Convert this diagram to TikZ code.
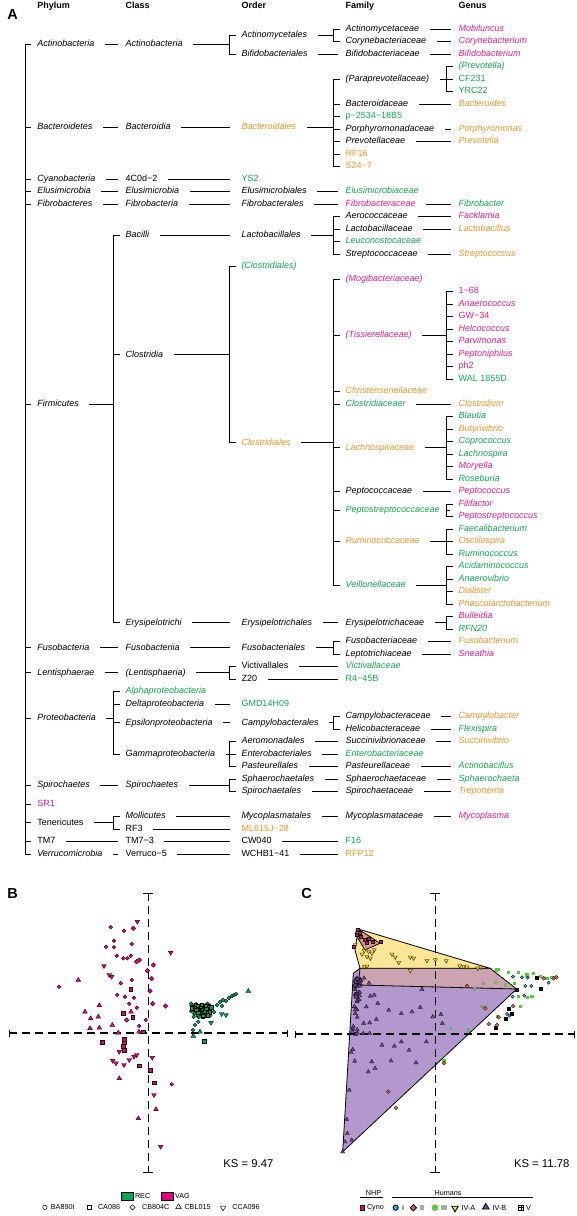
\documentclass[tikz,border=0pt]{standalone}
\usepackage{fontspec}
\setmainfont{Liberation Sans}
\usetikzlibrary{positioning}

\definecolor{txpink}{RGB}{234,30,138}
\definecolor{txgreen}{RGB}{20,168,80}
\definecolor{txorange}{RGB}{247,148,40}
\definecolor{vagpink}{RGB}{230,0,126}
\definecolor{recgreen}{RGB}{0,166,81}
\definecolor{hullpurple}{RGB}{178,152,204}
\definecolor{hullyellow}{RGB}{251,229,150}
\definecolor{hullmauve}{RGB}{204,163,178}
\definecolor{hullcyno}{RGB}{214,150,130}
\definecolor{ptcyan}{RGB}{40,185,230}
\definecolor{ptbrown}{RGB}{220,110,60}
\definecolor{ptgreen}{RGB}{90,200,60}
\definecolor{ptgrey}{RGB}{125,160,125}
\definecolor{ptyellow}{RGB}{250,215,40}
\definecolor{ptpurple}{RGB}{120,70,160}

% point markers
\tikzset{
  mo/.pic={\path[pic actions] (0pt,0pt) circle (1.9pt);},
  ms/.pic={\path[pic actions] (-1.7pt,-1.7pt) rectangle (1.7pt,1.7pt);},
  md/.pic={\path[pic actions] (0pt,2.3pt) -- (2.3pt,0pt) -- (0pt,-2.3pt) -- (-2.3pt,0pt) -- cycle;},
  mt/.pic={\path[pic actions] (0pt,2.6pt) -- (2.4pt,-1.5pt) -- (-2.4pt,-1.5pt) -- cycle;},
  mv/.pic={\path[pic actions] (0pt,-2.6pt) -- (2.4pt,1.5pt) -- (-2.4pt,1.5pt) -- cycle;},
  mx/.pic={\path[pic actions] (-1.9pt,-1.9pt) rectangle (1.9pt,1.9pt);
           \draw[pic actions] (-1.9pt,0pt) -- (1.9pt,0pt) (0pt,-1.9pt) -- (0pt,1.9pt);},
}

% bracket: parent, bracket column, first child, last child, all children
\newcommand\taxfork[5]{%
  \draw (#3.west -| #2) ++(6.3,0) -- ++(-6.3,0) -- (#4.west -| #2) -- ++(6.3,0);
  \foreach \k in {#5} {\draw (\k.west -| #2) -- ++(6.3,0);}
  \draw[shorten <=10pt] (#1.east) -- (#1.east -| #2);
}

\begin{document}
\begin{tikzpicture}[x=1pt, y=-1pt, line width=1pt]
  \tikzstyle{tx}=[anchor=west, inner sep=0pt, text height=6.5pt, text depth=2pt, font=\fontsize{9}{10}\selectfont\itshape]
  \tikzstyle{cd}=[tx, font=\fontsize{9}{10}\selectfont]
  \tikzstyle{pk}=[text=txpink]
  \tikzstyle{gn}=[text=txgreen]
  \tikzstyle{og}=[text=txorange]
  \tikzstyle{hd}=[tx, font=\fontsize{9}{10}\selectfont\bfseries]
  \tikzstyle{panel}=[inner sep=0pt, font=\fontsize{14.5}{15}\selectfont\bfseries]
  \tikzstyle{link}=[shorten <=10pt, shorten >=7pt]
  \tikzstyle{axis}=[line width=1.1pt, dash pattern=on 8pt off 5pt]
  \tikzstyle{axcap}=[line width=1.1pt]
  \tikzstyle{vag}=[draw=black, fill=vagpink, line width=0.3pt]
  \tikzstyle{rec}=[draw=black, fill=recgreen, line width=0.3pt]
  \tikzstyle{hull}=[draw=black, line width=0.8pt]
  \tikzstyle{lg}=[inner sep=0pt, font=\fontsize{7.2}{8}\selectfont]
  \useasboundingbox (0,0) rectangle (577,1216);

  % ---------------- A: taxonomy tree
  \node[panel] (lblA) at (12.5,15) {A};
  \node[hd] (hPhy) at (36.8,6.5) {Phylum};
  \node[hd] (hCla) at (125.1,6.5) {Class};
  \node[hd] (hOrd) at (241,6.5) {Order};
  \node[hd] (hFam) at (345.2,6.5) {Family};
  \node[hd] (hGen) at (458.2,6.5) {Genus};

  \begin{scope}[y=-12.5pt, yshift=-16.5pt]
    \coordinate (bR) at (25,0);
    \coordinate (bC) at (113.3,0);
    \coordinate (bO) at (229.2,0);
    \coordinate (bF) at (333.4,0);
    \coordinate (bG) at (446.4,0);

    % phylum
    \node[tx] (pAct) at (36.8,2.25) {Actinobacteria};
    \node[tx] (pBac) at (36.8,8.857) {Bacteroidetes};
    \node[tx] (pCya) at (36.8,13) {Cyanobacteria};
    \node[tx] (pEls) at (36.8,14) {Elusimicrobia};
    \node[tx] (pFib) at (36.8,15) {Fibrobacteres};
    \node[tx] (pFir) at (36.8,31.02) {Firmicutes};
    \node[tx] (pFus) at (36.8,50.5) {Fusobacteria};
    \node[tx] (pLen) at (36.8,52.5) {Lentisphaerae};
    \node[tx] (pPro) at (36.8,56.125) {Proteobacteria};
    \node[tx] (pSpi) at (36.8,61.5) {Spirochaetes};
    \node[cd,pk] (pSR) at (36.8,63) {SR1};
    \node[cd] (pTen) at (36.8,64.5) {Tenericutes};
    \node[cd] (pTM) at (36.8,66) {TM7};
    \node[tx] (pVer) at (36.8,67) {Verrucomicrobia};

    % class
    \node[tx] (cAct) at (125.1,2.25) {Actinobacteria};
    \node[tx] (cBac) at (125.1,8.857) {Bacteroidia};
    \node[cd] (cCya) at (125.1,13) {4C0d−2};
    \node[tx] (cEls) at (125.1,14) {Elusimicrobia};
    \node[tx] (cFib) at (125.1,15) {Fibrobacteria};
    \node[tx] (cBaci) at (125.1,17.5) {Bacilli};
    \node[tx] (cClo) at (125.1,27.06) {Clostridia};
    \node[tx] (cEry) at (125.1,48.5) {Erysipelotrichi};
    \node[tx] (cFus) at (125.1,50.5) {Fusobacteriia};
    \node[tx] (cLen) at (125.1,52.5) {(Lentisphaeria)};
    \node[tx,gn] (cAlp) at (125.1,54) {Alphaproteobacteria};
    \node[tx] (cDel) at (125.1,55) {Deltaproteobacteria};
    \node[tx] (cEps) at (125.1,56.5) {Epsilonproteobacteria};
    \node[tx] (cGam) at (125.1,59) {Gammaproteobacteria};
    \node[tx] (cSpi) at (125.1,61.5) {Spirochaetes};
    \node[tx] (cMol) at (125.1,64) {Mollicutes};
    \node[cd] (cRF3) at (125.1,65) {RF3};
    \node[cd] (cTM) at (125.1,66) {TM7−3};
    \node[cd] (cVer) at (125.1,67) {Verruco−5};

    % order
    \node[tx] (oActm) at (241,1.5) {Actinomycetales};
    \node[tx] (oBif) at (241,3) {Bifidobacteriales};
    \node[tx,og] (oBac) at (241,8.857) {Bacteroidales};
    \node[cd,gn] (oYS2) at (241,13) {YS2};
    \node[tx] (oEls) at (241,14) {Elusimicrobiales};
    \node[tx] (oFib) at (241,15) {Fibrobacterales};
    \node[tx] (oLac) at (241,17.5) {Lactobacillales};
    \node[tx,gn] (oCloU) at (241,20) {(Clostridiales)};
    \node[tx,og] (oClo) at (241,34.11) {Clostridiales};
    \node[tx] (oEry) at (241,48.5) {Erysipelotrichales};
    \node[tx] (oFus) at (241,50.5) {Fusobacteriales};
    \node[cd] (oVic) at (241,52) {Victivallales};
    \node[cd] (oZ20) at (241,53) {Z20};
    \node[cd,gn] (oGMD) at (241,55) {GMD14H09};
    \node[tx] (oCam) at (241,56.5) {Campylobacterales};
    \node[tx] (oAer) at (241,58) {Aeromonadales};
    \node[tx] (oEnt) at (241,59) {Enterobacteriales};
    \node[tx] (oPas) at (241,60) {Pasteurellales};
    \node[tx] (oSph) at (241,61) {Sphaerochaetales};
    \node[tx] (oSpi) at (241,62) {Spirochaetales};
    \node[tx] (oMyc) at (241,64) {Mycoplasmatales};
    \node[cd,og] (oML) at (241,65) {ML615J−28};
    \node[cd] (oCW) at (241,66) {CW040};
    \node[cd] (oWC) at (241,67) {WCHB1−41};

    % family
    \node[tx] (fActm) at (345.2,1) {Actinomycetaceae};
    \node[tx] (fCory) at (345.2,2) {Corynebacteriaceae};
    \node[tx] (fBif) at (345.2,3) {Bifidobacteriaceae};
    \node[tx] (fPara) at (345.2,5) {(Paraprevotellaceae)};
    \node[tx] (fBacd) at (345.2,7) {Bacteroidaceae};
    \node[cd,gn] (fP25) at (345.2,8) {p−2534−18B5};
    \node[tx] (fPor) at (345.2,9) {Porphyromonadaceae};
    \node[tx] (fPrev) at (345.2,10) {Prevotellaceae};
    \node[cd,og] (fRF16) at (345.2,11) {RF16};
    \node[cd,og] (fS24) at (345.2,12) {S24−7};
    \node[tx,gn] (fEls) at (345.2,14) {Elusimicrobiaceae};
    \node[tx,pk] (fFib) at (345.2,15) {Fibrobacteraceae};
    \node[tx] (fAer) at (345.2,16) {Aerococcaceae};
    \node[tx] (fLac) at (345.2,17) {Lactobacillaceae};
    \node[tx,gn] (fLeu) at (345.2,18) {Leuconostocaceae};
    \node[tx] (fStr) at (345.2,19) {Streptococcaceae};
    \node[tx,pk] (fMog) at (345.2,21) {(Mogibacteriaceae)};
    \node[tx,pk] (fTis) at (345.2,25.5) {(Tissierellaceae)};
    \node[tx,og] (fChr) at (345.2,30) {Christensenellaceae};
    \node[tx,gn] (fCld) at (345.2,31) {Clostridiaceaer};
    \node[tx,og] (fLach) at (345.2,34.5) {Lachnospiraceae};
    \node[tx] (fPcc) at (345.2,38) {Peptococcaceae};
    \node[tx,gn] (fPst) at (345.2,39.5) {Peptostreptococcaceae};
    \node[tx,og] (fRum) at (345.2,42) {Ruminococcaceae};
    \node[tx,gn] (fVei) at (345.2,45.5) {Veillonellaceae};
    \node[tx] (fEry) at (345.2,48.5) {Erysipelotrichaceae};
    \node[tx] (fFus) at (345.2,50) {Fusobacteriaceae};
    \node[tx] (fLep) at (345.2,51) {Leptotrichiaceae};
    \node[tx,gn] (fVic) at (345.2,52) {Victivallaceae};
    \node[cd,gn] (fR4) at (345.2,53) {R4−45B};
    \node[tx] (fCam) at (345.2,56) {Campylobacteraceae};
    \node[tx] (fHel) at (345.2,57) {Helicobacteraceae};
    \node[tx] (fSuc) at (345.2,58) {Succinivibrionaceae};
    \node[tx,gn] (fEnt) at (345.2,59) {Enterobacteriaceae};
    \node[tx] (fPas) at (345.2,60) {Pasteurellaceae};
    \node[tx] (fSph) at (345.2,61) {Sphaerochaetaceae};
    \node[tx] (fSpi) at (345.2,62) {Spirochaetaceae};
    \node[tx] (fMyc) at (345.2,64) {Mycoplasmataceae};
    \node[cd,gn] (fF16) at (345.2,66) {F16};
    \node[cd,og] (fRFP) at (345.2,67) {RFP12};

    % genus
    \node[tx,pk] (gMob) at (458.2,1) {Mobiluncus};
    \node[tx,pk] (gCory) at (458.2,2) {Corynebacterium};
    \node[tx,pk] (gBif) at (458.2,3) {Bifidobacterium};
    \node[tx,gn] (gPrevP) at (458.2,4) {(Prevotella)};
    \node[cd,gn] (gCF) at (458.2,5) {CF231};
    \node[cd,gn] (gYRC) at (458.2,6) {YRC22};
    \node[tx,og] (gBacd) at (458.2,7) {Bacteroides};
    \node[tx,og] (gPor) at (458.2,9) {Porphyromonas};
    \node[tx,og] (gPrev) at (458.2,10) {Prevotella};
    \node[tx,gn] (gFib) at (458.2,15) {Fibrobacter};
    \node[tx,pk] (gFac) at (458.2,16) {Facklamia};
    \node[tx,og] (gLac) at (458.2,17) {Lactobacillus};
    \node[tx,og] (gStr) at (458.2,19) {Streptococcus};
    \node[cd,pk] (g168) at (458.2,22) {1−68};
    \node[tx,pk] (gAna) at (458.2,23) {Anaerococcus};
    \node[cd,pk] (gGW) at (458.2,24) {GW−34};
    \node[tx,pk] (gHel) at (458.2,25) {Helcococcus};
    \node[tx,pk] (gPar) at (458.2,26) {Parvimonas};
    \node[tx,pk] (gPep) at (458.2,27) {Peptoniphilus};
    \node[cd,pk] (gph2) at (458.2,28) {ph2};
    \node[cd,gn] (gWAL) at (458.2,29) {WAL 1855D};
    \node[tx,og] (gCld) at (458.2,31) {Clostridium};
    \node[tx,gn] (gBla) at (458.2,32) {Blautia};
    \node[tx,og] (gBut) at (458.2,33) {Butyrivibrio};
    \node[tx,gn] (gCop) at (458.2,34) {Coprococcus};
    \node[tx,gn] (gLach) at (458.2,35) {Lachnospira};
    \node[tx,pk] (gMor) at (458.2,36) {Moryella};
    \node[tx,gn] (gRos) at (458.2,37) {Roseburia};
    \node[tx,pk] (gPcc) at (458.2,38) {Peptococcus};
    \node[tx,pk] (gFil) at (458.2,39) {Filifactor};
    \node[tx,pk] (gPst) at (458.2,40) {Peptostreptococcus};
    \node[tx,gn] (gFae) at (458.2,41) {Faecalibacterium};
    \node[tx,og] (gOsc) at (458.2,42) {Oscillospira};
    \node[tx,gn] (gRum) at (458.2,43) {Ruminococcus};
    \node[tx,gn] (gAci) at (458.2,44) {Acidaminococcus};
    \node[tx,gn] (gAnv) at (458.2,45) {Anaerovibrio};
    \node[tx,og] (gDia) at (458.2,46) {Dialister};
    \node[tx,og] (gPha) at (458.2,47) {Phascolarctobacterium};
    \node[tx,pk] (gBul) at (458.2,48) {Bulleidia};
    \node[tx,gn] (gRFN) at (458.2,49) {RFN20};
    \node[tx,og] (gFus) at (458.2,50) {Fusobacterium};
    \node[tx,pk] (gSne) at (458.2,51) {Sneathia};
    \node[tx,og] (gCam) at (458.2,56) {Campylobacter};
    \node[tx,gn] (gFle) at (458.2,57) {Flexispira};
    \node[tx,og] (gSuc) at (458.2,58) {Succinivibrio};
    \node[tx,gn] (gAct) at (458.2,60) {Actinobacillus};
    \node[tx,gn] (gSph) at (458.2,61) {Sphaerochaeta};
    \node[tx,og] (gTre) at (458.2,62) {Treponema};
    \node[tx,pk] (gMyc) at (458.2,64) {Mycoplasma};

    % root
    \draw (pAct.west -| bR) ++(6.3,0) -- ++(-6.3,0) -- (pVer.west -| bR) -- ++(6.3,0);
    \foreach \k in {pBac,pCya,pEls,pFib,pFir,pFus,pLen,pPro,pSpi,pSR,pTen,pTM}
      \draw (\k.west -| bR) -- ++(6.3,0);

    % single links
    \foreach \a/\b in {pAct/cAct, pBac/cBac, pCya/cCya, pEls/cEls, pFib/cFib, pFus/cFus,
        pLen/cLen, pSpi/cSpi, pTM/cTM, pVer/cVer,
        oBif/fBif, oEls/fEls, oFib/fFib, oEry/fEry, oVic/fVic, oZ20/fR4, oAer/fSuc,
        oEnt/fEnt, oPas/fPas, oSph/fSph, oSpi/fSpi, oMyc/fMyc, oCW/fF16, oWC/fRFP,
        fActm/gMob, fCory/gCory, fBif/gBif, fBacd/gBacd, fPor/gPor, fPrev/gPrev,
        fFib/gFib, fAer/gFac, fLac/gLac, fStr/gStr, fCld/gCld, fPcc/gPcc, fFus/gFus,
        fLep/gSne, fCam/gCam, fHel/gFle, fSuc/gSuc, fPas/gAct, fSph/gSph, fSpi/gTre,
        fMyc/gMyc}
      \draw[link] (\a.east) -- (\b.west);
    \foreach \a/\b in {cBac/oBac, cCya/oYS2, cEls/oEls, cFib/oFib, cBaci/oLac, cEry/oEry,
        cFus/oFus, cDel/oGMD, cEps/oCam, cMol/oMyc, cRF3/oML, cTM/oCW, cVer/oWC}
      \draw[link, shorten >=11pt] (\a.east) -- (\b.west);

    % brackets
    \taxfork{cAct}{bO}{oActm}{oBif}{oActm,oBif}
    \taxfork{oActm}{bF}{fActm}{fCory}{fActm,fCory}
    \taxfork{oBac}{bF}{fPara}{fS24}{fPara,fBacd,fP25,fPor,fPrev,fRF16,fS24}
    \taxfork{fPara}{bG}{gPrevP}{gYRC}{gPrevP,gCF,gYRC}
    \taxfork{pFir}{bC}{cBaci}{cEry}{cBaci,cClo,cEry}
    \taxfork{oLac}{bF}{fAer}{fStr}{fAer,fLac,fLeu,fStr}
    \taxfork{cClo}{bO}{oCloU}{oClo}{oCloU,oClo}
    \taxfork{oClo}{bF}{fMog}{fVei}{fMog,fTis,fChr,fCld,fLach,fPcc,fPst,fRum,fVei}
    \taxfork{fTis}{bG}{g168}{gWAL}{g168,gAna,gGW,gHel,gPar,gPep,gph2,gWAL}
    \taxfork{fLach}{bG}{gBla}{gRos}{gBla,gBut,gCop,gLach,gMor,gRos}
    \taxfork{fPst}{bG}{gFil}{gPst}{gFil,gPst}
    \taxfork{fRum}{bG}{gFae}{gRum}{gFae,gOsc,gRum}
    \taxfork{fVei}{bG}{gAci}{gPha}{gAci,gAnv,gDia,gPha}
    \taxfork{fEry}{bG}{gBul}{gRFN}{gBul,gRFN}
    \taxfork{oFus}{bF}{fFus}{fLep}{fFus,fLep}
    \taxfork{cLen}{bO}{oVic}{oZ20}{oVic,oZ20}
    \taxfork{pPro}{bC}{cAlp}{cGam}{cAlp,cDel,cEps,cGam}
    \taxfork{oCam}{bF}{fCam}{fHel}{fCam,fHel}
    \taxfork{cGam}{bO}{oAer}{oPas}{oAer,oEnt,oPas}
    \taxfork{cSpi}{bO}{oSph}{oSpi}{oSph,oSpi}
    \taxfork{pTen}{bC}{cMol}{cRF3}{cMol,cRF3}
  \end{scope}

  % ---------------- B: REC vs VAG
  \node[panel] (lblB) at (12.5,893.5) {B};
  \draw[axis] (9.3,1033) -- (287.3,1033);
  \draw[axcap] (9.3,1029.5) -- (9.3,1036.5) (287.3,1029.5) -- (287.3,1036.5);
  \draw[axis] (148.3,893.3) -- (148.3,1172.5);
  \draw[axcap] (143.3,893.3) -- (153.3,893.3) (143.3,1172.5) -- (153.3,1172.5);

  \foreach \x/\y in {110.7/927.3, 124/930.7, 114/940.7, 106/946.7, 114/947.3, 131.7/944,
      116.7/955.7, 123.3/958.3, 127.3/958.3, 130.7/955.7, 59/986.7, 120.7/983.3, 131.7/980,
      117.3/995, 125/996.7, 134/997.7, 129.3/1003.7, 136.7/1007.7, 145.7/1020, 139.3/1026,
      171.7/1084.3}
    \pic[vag] at (\x,\y) {mo};
  \foreach \x/\y in {133.3/928.3, 136.7/961.7, 139.3/960, 153.3/965, 147.3/970.7, 151.7/978.7,
      150/991, 152.7/1003.7, 165.7/1006, 126.7/1020}
    \pic[vag] at (\x,\y) {md};
  \foreach \x/\y in {130.7/989.3, 123.3/1013.3, 132.7/1017.3, 143.3/1031.7, 102.3/1042,
      124/1039.3, 124/1042.7, 123.3/1046.3, 124/1050, 139.3/1065.7, 150/1070, 154.3/1082.7}
    \pic[vag] at (\x,\y) {ms};
  \foreach \x/\y in {78.3/980, 99.3/1005.3, 85/1011.7, 98.3/1016.7, 90.7/1018.3, 90/1028.3,
      99.3/1027.7, 112.3/1025, 118.3/1032.7, 139/1031.7, 131/1011.7, 119.3/1078.3,
      156/1109.3, 138.3/1118.3}
    \pic[vag] at (\x,\y) {mt};
  \foreach \x/\y in {137.3/921.7, 170.7/952.7, 104/966, 109.3/975, 111.7/976.7, 119.3/1051.7,
      112.7/1060.7, 116/1063.3, 124/1065, 129.3/1060, 134/1056.7, 136.7/1055, 152.3/1057.7,
      154/1095, 160.7/1146.7}
    \pic[vag] at (\x,\y) {mv};

  \pgfmathsetseed{42}
  \foreach \i in {1,...,40}{
    \pgfmathsetmacro\px{201+11*rand}
    \pgfmathsetmacro\py{1010+7*rand}
    \pic[rec] at (\px,\py) {mo};
  }
  \foreach \i in {1,...,30}{
    \pgfmathsetmacro\px{201+10*rand}
    \pgfmathsetmacro\py{1010+6*rand}
    \pic[rec] at (\px,\py) {ms};
  }
  \foreach \x/\y in {217/1005, 220/1002, 223/1000, 226/1001, 229/998, 232/996, 234/995,
      236/994, 222/1006, 214/1012, 195/1025, 198.3/1021.7, 193/1030}
    \pic[rec] at (\x,\y) {mo};
  \foreach \x/\y in {248.3/991, 193.3/1036, 200/1031.7}
    \pic[rec] at (\x,\y) {mt};
  \foreach \x/\y in {221.7/1014, 226/1015, 211/1022.7}
    \pic[rec] at (\x,\y) {mv};
  \pic[rec] at (204.3,1041) {ms};

  \node[font=\fontsize{11.3}{12}\selectfont] (ksB) at (248.4,1164) {KS = 9.47};

  % legend B
  \filldraw[fill=recgreen, line width=0.4pt] (121.5,1191.7) rectangle (133.2,1200);
  \node[lg, anchor=west] (lgREC) at (134.5,1196) {REC};
  \filldraw[fill=vagpink, line width=0.4pt] (160.8,1191.7) rectangle (173,1200);
  \node[lg, anchor=west] (lgVAG) at (174.5,1196) {VAG};
  \tikzstyle{legopen}=[draw=black, fill=white, line width=0.5pt, scale=1.15]
  \pic[legopen] at (44.9,1207.3) {mo};
  \node[lg, anchor=west] (lgBA) at (50.4,1207.3) {BA890I};
  \pic[legopen] at (89.4,1207.3) {ms};
  \node[lg, anchor=west] (lgCA) at (97.5,1207.3) {CA086};
  \pic[legopen] at (132.5,1207.3) {md};
  \node[lg, anchor=west] (lgCB) at (141.7,1207.3) {CB804C};
  \pic[legopen] at (178.5,1206.8) {mt};
  \node[lg, anchor=west] (lgCBL) at (184,1207.3) {CBL015};
  \pic[legopen] at (223,1207.8) {mv};
  \node[lg, anchor=west] (lgCCA) at (231.9,1207.3) {CCA096};

  % ---------------- C: community types
  \node[panel] (lblC) at (306.5,893.5) {C};
  \filldraw[hull, fill=hullpurple] (353.3,973.3) -- (360,968.3) -- (516.7,989) -- (342.7,1151.7) -- cycle;
  \filldraw[hull, fill=hullmauve] (360,968.3) -- (490,968.3) -- (516.7,989) -- (358.3,985) -- cycle;
  \filldraw[hull, fill=hullyellow] (358.3,929) -- (490,968.3) -- (360,968.3) -- (355,950) -- cycle;
  \filldraw[hull, fill=hullcyno] (358.3,929) -- (380,943.3) -- (365,950) -- (355,933.3) -- cycle;

  \draw[axis] (295.3,1034) -- (574.3,1034);
  \draw[axcap] (295.3,1030.5) -- (295.3,1037.5) (574.3,1030.5) -- (574.3,1037.5);
  \draw[axis] (435.3,893.3) -- (435.3,1172.5);
  \draw[axcap] (430.3,893.3) -- (440.3,893.3) (430.3,1172.5) -- (440.3,1172.5);

  \tikzstyle{ivb}=[draw=black, fill=ptpurple, line width=0.3pt, scale=0.85]
  \tikzstyle{iva}=[draw=black, fill=ptyellow, line width=0.3pt, scale=0.85]
  \tikzstyle{cyno}=[draw=black, fill=vagpink, line width=0.3pt, scale=0.85]
  \tikzstyle{ct1}=[draw=black, fill=ptcyan, line width=0.3pt, scale=0.85]
  \tikzstyle{ct2}=[draw=black, fill=ptbrown, line width=0.3pt, scale=0.85]
  \tikzstyle{ct3}=[fill=ptgreen, scale=0.95]
  \tikzstyle{ct5}=[draw=black, fill=black, line width=0.3pt, scale=0.85]

  \pgfmathsetseed{7}
  \foreach \i in {1,...,50}{
    \pgfmathsetmacro\py{978+92*rnd*rnd}
    \pgfmathsetmacro\px{355-9*(\py-975)/177+6*rnd}
    \pic[ivb] at (\px,\py) {mt};
  }
  \foreach \x/\y in {422/989.3, 374.3/995, 370.3/996, 377.7/1003.3, 366.3/1006.7, 388.7/1010,
      401.3/1013.3, 412/1011.7, 420.3/1007.3, 432.7/1016.7, 441/1014.3, 442.3/1023.3,
      376.3/1019.3, 369.7/1022.7, 363.7/1023.3, 369.7/1033.3, 382/1045, 401.3/1041.7,
      394.3/1046, 426.3/1041.7, 409/1050, 371.7/1061.7, 391/1060.7, 416/1062.7, 375/1068.3,
      368.3/1071.7, 363.3/1033.3, 349.3/1090, 346.7/1119.3, 347.3/1133.3, 351.7/1140,
      345/1141.7, 342.7/1151.7, 364/978, 369/983}
    \pic[ivb] at (\x,\y) {mt};
  \foreach \x/\y in {362/954.3, 367/956.7, 372/953.3, 374.3/950, 368.7/951.7, 364.3/950.7,
      370.3/958.3, 392/954.3, 395.3/957.3, 398.7/962.7, 410.3/957.3, 413.7/958.3, 427/960.7,
      435.3/960, 446.3/961, 459.7/966, 463.7/966.7, 467/967.3, 477.7/968.3, 480.3/967.3,
      364.3/967, 367/966.3, 410.3/970.7, 355.3/945}
    \pic[iva] at (\x,\y) {mv};
  \foreach \x/\y in {358/930, 359.7/932.7, 357/935, 361/936.7, 364.3/940, 368.7/938.3,
      367/942.7, 373/941.7, 381/941.7, 353.7/946.7}
    \pic[cyno] at (\x,\y) {ms};
  \foreach \x/\y in {496.3/970, 498.7/969.3, 508.7/972.7, 518.7/972.3, 527/975, 533.7/973.3,
      540.3/976.7, 547/978.3, 552/977.3, 495.3/982.3, 505.3/985, 514.7/983.3, 518.7/996.7,
      527.7/997.3, 532/996.7, 520.3/1006.7, 497.7/1016.7, 468.3/1030, 444/1060.7}
    \pic[ct3] at (\x,\y) {ms};
  \foreach \x/\y in {483.7/983.3, 474.7/989, 482/1006.7, 450.3/1028.3, 468.7/1029.3}
    \pic[fill=ptgrey, scale=0.95] at (\x,\y) {ms};
  \foreach \x/\y in {513/976.7, 522/977.3, 527.7/977.7, 512.7/996.7, 525.3/986, 531.3/986,
      524.3/995.7, 509.7/1015.7, 507/1014, 548.7/982.7}
    \pic[ct1] at (\x,\y) {mo};
  \foreach \x/\y in {517/989.3, 541/988.3, 508.7/1008.3, 512/1013.3, 505.3/1018.3,
      495.3/1027.3, 537/977.3}
    \pic[ct5] at (\x,\y) {ms};
  \foreach \x/\y in {485.3/1008.3, 488.7/1024, 497/1025, 498.7/1017.3, 513.3/1006,
      543.7/978.3, 553.7/978.3, 556.3/977.3, 467/986, 388.3/1091.7, 396/1107.7, 444/1063.3}
    \pic[ct2] at (\x,\y) {md};

  \node[font=\fontsize{11.3}{12}\selectfont] (ksC) at (541.7,1164) {KS = 11.78};

  % legend C
  \node[lg] (lgNHP) at (373.5,1193.3) {NHP};
  \draw (360,1197.7) -- (383,1197.7);
  \node[lg] (lgHum) at (448,1193.3) {Humans};
  \draw (392,1197.7) -- (532.6,1197.7);
  \tikzstyle{big}=[draw=black, line width=0.9pt, scale=1.35]
  \pic[fill=vagpink, draw=black, line width=0.4pt, scale=1.2] at (362.5,1207.7) {ms};
  \node[lg, anchor=west] (lgCyno) at (366.5,1207.7) {Cyno};
  \pic[big, fill=ptcyan] at (395.7,1207.7) {mo};
  \node[lg, anchor=west] (lgI) at (401.5,1207.7) {I};
  \pic[big, fill=ptbrown] at (413.3,1207.7) {md};
  \node[lg, anchor=west] (lgII) at (419.5,1207.7) {II};
  \fill[ptgreen] (435,1207.7) circle (3.3pt);
  \node[lg, anchor=west] (lgIII) at (440.5,1207.7) {III};
  \pic[big, fill=ptyellow] at (455,1208.3) {mv};
  \node[lg, anchor=west] (lgIVA) at (461,1207.7) {IV-A};
  \pic[big, fill=ptpurple] at (485.8,1207) {mt};
  \node[lg, anchor=west] (lgIVB) at (492,1207.7) {IV-B};
  \pic[draw=black, fill=white, line width=0.6pt, scale=1.3] at (520.8,1207.7) {mx};
  \node[lg, anchor=west] (lgV) at (525.5,1207.7) {V};
\end{tikzpicture}
\end{document}
